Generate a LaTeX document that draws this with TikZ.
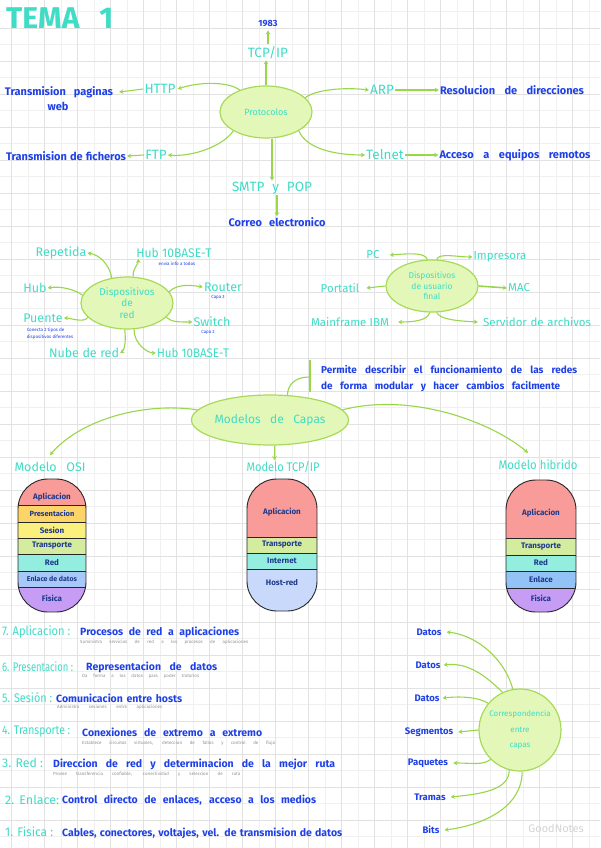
\documentclass[tikz,border=0pt]{standalone}
\usepackage{fontspec}
\usepackage{graphicx}
\setmainfont{Fira Sans}
\usetikzlibrary{shapes.geometric,arrows.meta}
\definecolor{cyanT}{HTML}{3FDCC6}
\definecolor{blueT}{HTML}{1E40E6}
\definecolor{greenL}{HTML}{99D64A}
\definecolor{ellF}{HTML}{E3F8B8}
\definecolor{ellD}{HTML}{A6DA58}
\definecolor{navy}{HTML}{1F3A8C}
\definecolor{gridA}{HTML}{E2E2E2}
\definecolor{gridB}{HTML}{F0F0F0}
\definecolor{noteG}{HTML}{929292}
\definecolor{cApl}{HTML}{F99B98}
\definecolor{cPre}{HTML}{FCD468}
\definecolor{cSes}{HTML}{FBF07E}
\definecolor{cTra}{HTML}{D3EC9E}
\definecolor{cRed}{HTML}{93EEDF}
\definecolor{cEnl}{HTML}{A8C8F7}
\definecolor{cFis}{HTML}{C69CF4}
\definecolor{cHost}{HTML}{C9D9FB}
\definecolor{cEnlH}{HTML}{93C2F7}
\newlength\fwlen
\newcommand\fw[2]{\settowidth\fwlen{#2}\ifdim\fwlen>#1\relax\resizebox{#1}{\height}{#2}\else\makebox[#1][s]{#2}\fi}
\tikzset{
 cy/.style={text=cyanT, font=\fontsize{13.5}{14}\selectfont, inner sep=1pt},
 cys/.style={text=cyanT, font=\fontsize{11.5}{12}\selectfont, inner sep=1pt},
 bl/.style={text=blueT, font=\bfseries\fontsize{11}{12}\selectfont, inner sep=1pt},
 tinyb/.style={text=blueT, font=\fontsize{4.5}{6.5}\selectfont, inner sep=0.5pt},
 note/.style={text=noteG, font=\fontsize{4.5}{5}\selectfont, inner sep=0pt, anchor=west},
 arr/.style={draw=greenL, line width=1.1pt, -{Stealth[length=4pt,width=4.5pt]}},
 gln/.style={draw=greenL, line width=1.1pt},
 bub/.style={ellipse, draw=ellD, fill=ellF, line width=1.2pt, inner sep=0pt, text=cyanT, align=center},
 band/.style={text=navy, font=\bfseries\fontsize{8}{8}\selectfont, inner sep=0pt},
 sep/.style={draw=black!85, line width=0.9pt},
 listc/.style={text=cyanT, font=\fontsize{12.5}{13}\selectfont, anchor=west, inner sep=0pt},
 listb/.style={text=blueT, font=\bfseries\fontsize{10.5}{11}\selectfont, anchor=west, inner sep=0pt},
}
\begin{document}
\begin{tikzpicture}[x=1pt,y=-1pt]
\useasboundingbox (0,0) rectangle (600,848);
\fill[white] (0,0) rectangle (600,848);
% grid
\foreach \k in {0,...,17} \draw[gridB, line width=0.6pt] ({27.8+33*\k},0) -- ({27.8+33*\k},848);
\foreach \k in {0,...,25} \draw[gridB, line width=0.6pt] (0,{11.5+33*\k}) -- (600,{11.5+33*\k});
\foreach \k in {0,...,18} \draw[gridA, line width=0.6pt] ({11.3+33*\k},0) -- ({11.3+33*\k},848);
\foreach \k in {0,...,25} \draw[gridA, line width=0.6pt] (0,{28+33*\k}) -- (600,{28+33*\k});

% title
\node[text=cyanT, font=\bfseries\fontsize{30}{30}\selectfont, anchor=west, inner sep=0pt] (title) at (6,18) {\fw{107pt}{TEMA 1}};

% ===== Protocolos =====
\node[bub, minimum width=92pt, minimum height=52pt, font=\fontsize{9}{10}\selectfont] (proto) at (266,112) {Protocolos};
\node[cy] (tcpip) at (268,53) {TCP/IP};
\node[bl, font=\bfseries\fontsize{9}{9}\selectfont] (y1983) at (268,24) {1983};
\node[cy] (http) at (160,89) {HTTP};
\node[bl] (tpw1) at (59,92) {\fw{108pt}{Transmision paginas}};
\node[bl] (tpw2) at (58,106) {web};
\node[cy] (ftp) at (156,155) {FTP};
\node[bl] (tdf) at (66,156) {\fw{120pt}{Transmision de ficheros}};
\node[cy] (arp) at (382,90) {ARP};
\node[bl] (rdd) at (512,90) {\fw{144pt}{Resolucion de direcciones}};
\node[cy] (telnet) at (385,155) {Telnet};
\node[bl] (aer) at (515,155) {\fw{151pt}{Acceso a equipos remotos}};
\node[cy] (smtp) at (272,188) {\fw{80pt}{SMTP y POP}};
\node[bl] (correo) at (277,222) {\fw{97pt}{Correo electronico}};

\draw[arr] (proto.north) -- (proto.north |- tcpip.south);
\draw[arr, shorten <=2pt, shorten >=2pt] (tcpip.north) -- (y1983.south);
\draw[arr] (proto.140) .. controls +(-12,-9) and +(20,-7) .. ([xshift=1pt]http.east);
\draw[arr] (http.west) -- ([xshift=5pt]tpw1.east);
\draw[arr] (proto.210) .. controls +(-10,15) and +(25,2) .. (ftp.east);
\draw[arr] (ftp.west) -- (tdf.east);
\draw[arr] (proto.20) .. controls +(10,-8) and +(-25,-3) .. (arp.west);
\draw[arr] (arp.east) -- (rdd.west);
\draw[arr] (proto.-30) .. controls +(8,18) and +(-30,0) .. (telnet.west);
\draw[arr, line width=1.6pt] (telnet.east) -- (aer.west);
\draw[arr] (proto.south -| smtp.north) -- (smtp.north);
\draw[arr] (smtp.south -| correo.north) -- (correo.north);

% ===== Dispositivos de red =====
\node[bub, minimum width=92pt, minimum height=52pt, font=\fontsize{10}{11.5}\selectfont] (disp) at (127,303) {Dispositivos\\de\\red};
\node[cys, font=\fontsize{12.5}{13}\selectfont] (repetida) at (61,253) {Repetida};
\node[cys, font=\fontsize{12.5}{13}\selectfont] (hub10a) at (174,253) {\fw{75pt}{Hub 10BASE-T}};
\node[tinyb] (hub10an) at (177,263.5) {envia info a todos};
\node[cys, font=\fontsize{12.5}{13}\selectfont] (hub) at (35,288) {Hub};
\node[cys, font=\fontsize{12.5}{13}\selectfont] (router) at (223,287) {Router};
\node[tinyb] (routern) at (218,297.5) {Capa 3};
\node[cys, font=\fontsize{12.5}{13}\selectfont] (puente) at (43,318) {Puente};
\node[tinyb, align=left] (puenten) at (50,333.5) {Conecta 2 tipos de\\dispositivos diferentes};
\node[cys, font=\fontsize{12.5}{13}\selectfont] (switch) at (212,322) {Switch};
\node[tinyb] (switchn) at (208,332.5) {Capa 2};
\node[cys, font=\fontsize{12.5}{13}\selectfont] (nube) at (84,353) {\fw{70pt}{Nube de red}};
\node[cys, font=\fontsize{12.5}{13}\selectfont] (hub10b) at (193,353) {\fw{72pt}{Hub 10BASE-T}};

\draw[arr] (disp.121) .. controls +(-3,-14) and +(12,2) .. (repetida.east);
\draw[arr] (disp.77) .. controls +(0,-10) and +(0,6) .. ([xshift=3pt]hub10a.south west);
\draw[arr] (disp.170) .. controls +(-8,-6) and +(12,-2) .. (hub.east);
\draw[arr] (disp.15) .. controls +(8,-8) and +(-12,-2) .. (router.west);
\draw[arr] (disp.200) .. controls +(-3,6) and +(6,0) .. (puente.east);
\draw[arr] (disp.-20) .. controls +(5,5) and +(-12,0) .. (switch.west);
\draw[arr] (disp.-95) .. controls +(2,15) and +(3,-2) .. (nube.east);
\draw[arr] (disp.-75) .. controls +(0,15) and +(-8,0) .. (hub10b.west);

% ===== Dispositivos de usuario final =====
\node[bub, minimum width=92pt, minimum height=52pt, font=\fontsize{8.5}{10.5}\selectfont] (duf) at (432,286) {Dispositivos\\de usuario\\final};
\node[cys] (pc) at (373,255) {PC};
\node[cys] (impresora) at (500,257) {Impresora};
\node[cys] (portatil) at (340,288) {Portatil};
\node[cys] (mac) at (519,288) {MAC};
\node[cys] (mainframe) at (350,322) {\fw{78pt}{Mainframe IBM}};
\node[cys] (servidor) at (537,322) {\fw{108pt}{Servidor de archivos}};

\draw[arr] (duf.100) .. controls +(-2,-8) and +(15,-1) .. ([xshift=9pt]pc.east);
\draw[arr] (duf.80) .. controls +(2,-7) and +(-15,0) .. (impresora.west);
\draw[arr] (duf.west) -- ([xshift=6pt]portatil.east);
\draw[arr, line width=1.6pt] (duf.east) -- (mac.west);
\draw[arr] (duf.-95) .. controls +(-2,8) and +(15,0) .. ([xshift=8pt]mainframe.east);
\draw[arr] (duf.-80) .. controls +(3,7) and +(-20,-1) .. ([xshift=-4pt]servidor.west);

% ===== Modelos de capas =====
\coordinate (bt) at (310,360);
\coordinate (bb) at (310,392);
\coordinate (bm) at (309,377);
\draw[gln, line width=1.6pt] (bt) -- (bb);
\node[bl, anchor=west, font=\bfseries\fontsize{10}{10}\selectfont] (perm1) at (320,370) {\fw{256pt}{Permite describir el funcionamiento de las redes}};
\node[bl, anchor=west, font=\bfseries\fontsize{10}{10}\selectfont] (perm2) at (320,387) {\fw{239pt}{de forma modular y hacer cambios facilmente}};
\node[bub, minimum width=134pt, minimum height=50pt, font=\fontsize{12}{12}\selectfont] (modelos) at (270,420) {\fw{111pt}{Modelos de Capas}};
\draw[gln] (bm) .. controls +(-14,0) and +(0,-10) .. (modelos.55);
\node[cys, font=\fontsize{12.5}{13}\selectfont] (osil) at (50,467) {\fw{71pt}{Modelo OSI}};
\node[cys, font=\fontsize{12.5}{13}\selectfont] (tcpl) at (283,467) {\fw{73pt}{Modelo TCP/IP}};
\node[cys, font=\fontsize{12.5}{13}\selectfont] (hibl) at (538,465) {\fw{79pt}{Modelo hibrido}};
\draw[arr] (modelos.172) .. controls +(-55,-8) and +(30,-35) .. ([yshift=6pt]osil.north);
\draw[arr] (modelos.8) .. controls +(70,-18) and +(-35,-30) .. ([xshift=-10pt,yshift=6pt]hibl.north);
\draw[arr] (modelos.-80) -- (modelos.-80 |- tcpl.north);

% OSI stack
\begin{scope}
\clip[rounded corners=30pt] (18,479) rectangle (86,612);
\fill[cApl] (18,479) rectangle (86,505);
\fill[cPre] (18,505) rectangle (86,522);
\fill[cSes] (18,522) rectangle (86,538);
\fill[cTra] (18,538) rectangle (86,554);
\fill[cRed] (18,554) rectangle (86,571);
\fill[cEnl] (18,571) rectangle (86,587);
\fill[cFis] (18,587) rectangle (86,612);
\foreach \yy in {505,522,538,554,571,587} \draw[sep] (18,\yy) -- (86,\yy);
\end{scope}
\draw[sep, rounded corners=30pt] (18,479) rectangle (86,612);
\node[band] (o7) at (52,497) {Aplicacion};
\node[band, font=\bfseries\fontsize{7.5}{7.5}\selectfont] (o6) at (52,513.5) {Presentacion};
\node[band] (o5) at (52,530) {Sesion};
\node[band] (o4) at (52,546) {Transporte};
\node[band] (o3) at (52,562.5) {Red};
\node[band, font=\bfseries\fontsize{7}{7}\selectfont] (o2) at (52,579) {Enlace de datos};
\node[band] (o1) at (52,598) {Fisica};

% TCP/IP stack
\begin{scope}
\clip[rounded corners=30pt] (247,479) rectangle (317,611);
\fill[cApl] (247,479) rectangle (317,537);
\fill[cTra] (247,537) rectangle (317,553);
\fill[cRed] (247,553) rectangle (317,569);
\fill[cHost] (247,569) rectangle (317,611);
\foreach \yy in {537,553,569} \draw[sep] (247,\yy) -- (317,\yy);
\end{scope}
\draw[sep, rounded corners=30pt] (247,479) rectangle (317,611);
\node[band] (t4) at (282,512) {Aplicacion};
\node[band] (t3) at (282,545) {Transporte};
\node[band] (t2) at (282,561) {Internet};
\node[band] (t1) at (282,583) {Host-red};

% Hybrid stack
\begin{scope}
\clip[rounded corners=30pt] (506,480) rectangle (576,612);
\fill[cApl] (506,480) rectangle (576,538);
\fill[cTra] (506,538) rectangle (576,555);
\fill[cRed] (506,555) rectangle (576,571);
\fill[cEnlH] (506,571) rectangle (576,588);
\fill[cFis] (506,588) rectangle (576,612);
\foreach \yy in {538,555,571,588} \draw[sep] (506,\yy) -- (576,\yy);
\end{scope}
\draw[sep, rounded corners=30pt] (506,480) rectangle (576,612);
\node[band] (h5) at (541,513) {Aplicacion};
\node[band] (h4) at (541,546.5) {Transporte};
\node[band] (h3) at (541,563) {Red};
\node[band] (h2) at (541,579.5) {Enlace};
\node[band] (h1) at (541,598) {Fisica};

% ===== Lista de capas =====
\node[listc] (l7) at (2,632) {\fw{68pt}{7. Aplicacion :}};
\node[listb] (d7) at (80,632) {\fw{159pt}{Procesos de red a aplicaciones}};
\node[note] (n7) at (80,642) {\fw{168pt}{Suministra servicios de red a los procesos de aplicaciones}};
\node[listc] (l6) at (2,667) {\fw{71pt}{6. Presentacion :}};
\node[listb] (d6) at (86,667) {\fw{131pt}{Representacion de datos}};
\node[note] (n6) at (82,676) {\fw{117pt}{Da forma a los datos para poder tratarlos}};
\node[listc] (l5) at (2,698) {\fw{50pt}{5. Sesión :}};
\node[listb] (d5) at (56,698) {\fw{126pt}{Comunicacion entre hosts}};
\node[note] (n5) at (57,707) {\fw{105pt}{Administra sesiones entre aplicaciones}};
\node[listc] (l4) at (2,732) {\fw{68pt}{4. Transporte :}};
\node[listb] (d4) at (82,732) {\fw{180pt}{Conexiones de extremo a extremo}};
\node[note] (n4) at (82,743) {\fw{193pt}{Establece circuitos virtuales, deteccion de fallos y control de flujo}};
\node[listc] (l3) at (2,763) {\fw{41pt}{3. Red :}};
\node[listb] (d3) at (53,764) {\fw{282pt}{Direccion de red y determinacion de la mejor ruta}};
\node[note] (n3) at (53,774) {\fw{187pt}{Provee transferencia confiable, conectividad y seleccion de ruta}};
\node[listc] (l2) at (5,800) {\fw{54pt}{2. Enlace:}};
\node[listb] (d2) at (62,800) {\fw{254pt}{Control directo de enlaces, acceso a los medios}};
\node[listc] (l1) at (5,832) {\fw{48pt}{1. Fisica :}};
\node[listb] (d1) at (62,833) {\fw{280pt}{Cables, conectores, voltajes, vel. de transmision de datos}};

% ===== Correspondencia =====
\node[circle, draw=ellD, fill=ellF, line width=1.2pt, minimum size=82pt, inner sep=0pt, text=cyanT, align=center, font=\fontsize{8}{15.5}\selectfont] (corr) at (520,730) {Correspondencia\\entre\\capas};
\node[bl, font=\bfseries\fontsize{9.5}{9.5}\selectfont] (c1) at (429,632) {Datos};
\node[bl, font=\bfseries\fontsize{9.5}{9.5}\selectfont] (c2) at (428,665) {Datos};
\node[bl, font=\bfseries\fontsize{9.5}{9.5}\selectfont] (c3) at (427,698) {Datos};
\node[bl, font=\bfseries\fontsize{9.5}{9.5}\selectfont] (c4) at (429,732) {Segmentos};
\node[bl, font=\bfseries\fontsize{9.5}{9.5}\selectfont] (c5) at (428,763) {Paquetes};
\node[bl, font=\bfseries\fontsize{9.5}{9.5}\selectfont] (c6) at (430,797) {Tramas};
\node[bl, font=\bfseries\fontsize{9.5}{9.5}\selectfont] (c7) at (431,830) {Bits};
\draw[arr] (corr.100) .. controls +(-8,-30) and +(30,3) .. ([xshift=4pt]c1.east);
\draw[arr] (corr.115) .. controls +(-15,-15) and +(25,-3) .. ([xshift=2pt]c2.east);
\draw[arr] (corr.140) .. controls +(-10,-6) and +(20,-2) .. ([xshift=2pt]c3.east);
\draw[arr] (corr.west) -- ([xshift=4pt]c4.east);
\draw[arr] (corr.225) .. controls +(-8,6) and +(20,0) .. ([xshift=4pt]c5.east);
\draw[arr] (corr.255) .. controls +(0,20) and +(30,-3) .. ([xshift=4pt]c6.east);
\draw[arr] (corr.-87) .. controls +(0,35) and +(40,-5) .. ([xshift=4pt]c7.east);

\node[text=black!17, font=\fontsize{11}{11}\selectfont] (gn) at (556,828) {GoodNotes};
\end{tikzpicture}
\end{document}
